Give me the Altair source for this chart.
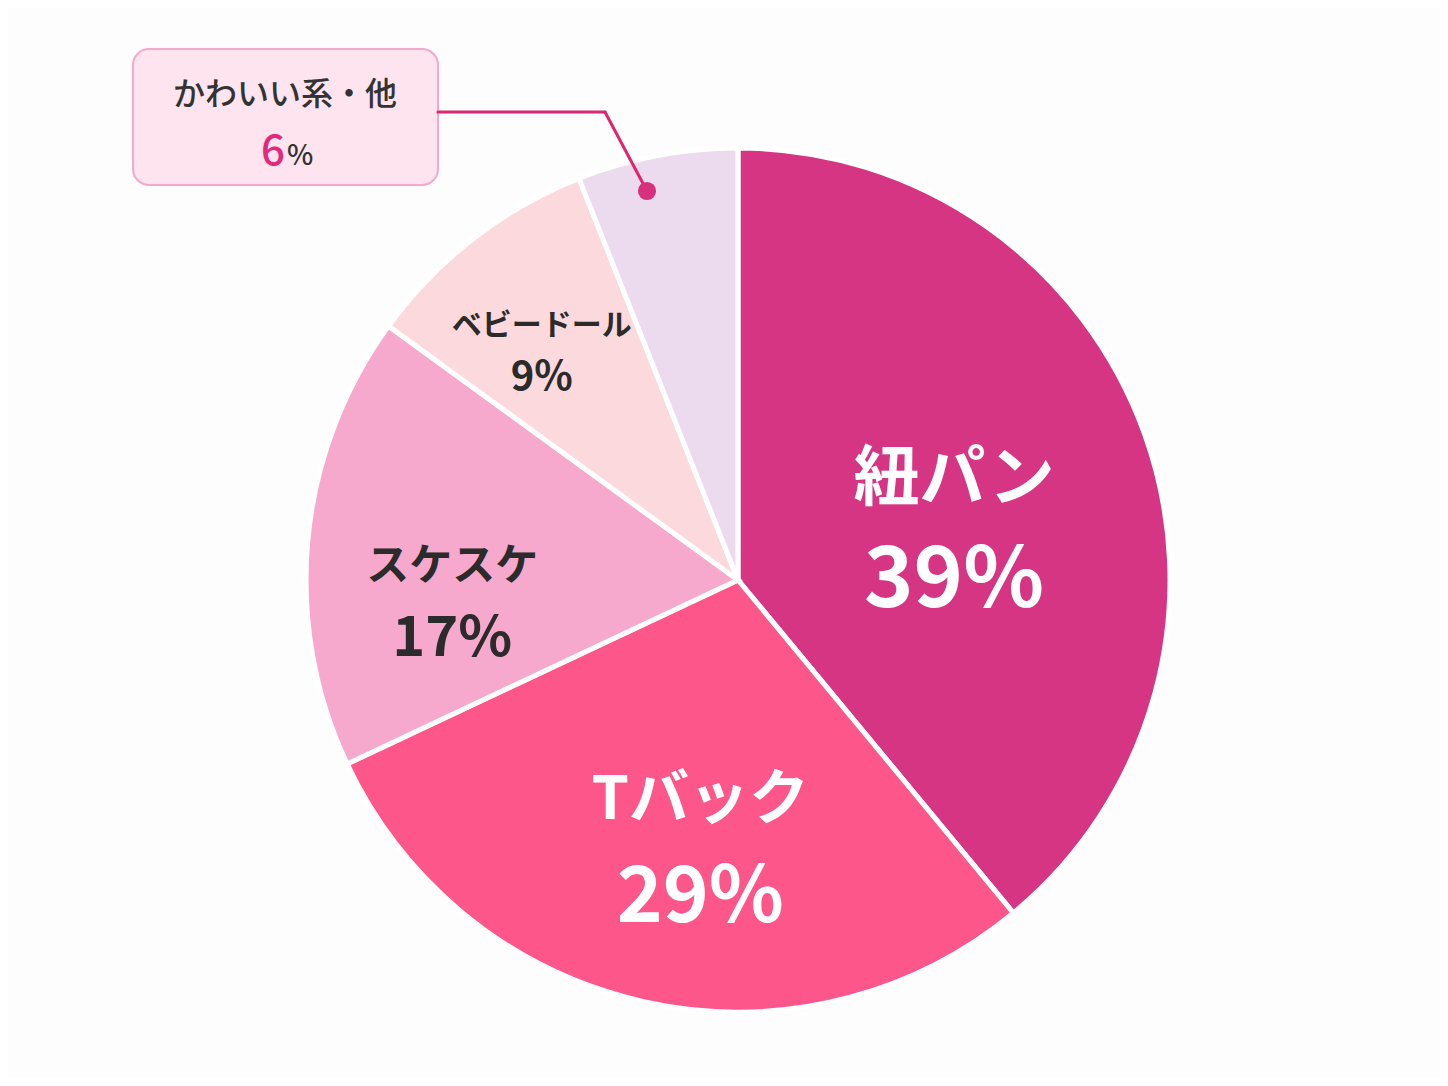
import math
import altair as alt
import pandas as pd

# ---- data ----
cats = ["紐パン", "Tバック", "スケスケ", "ベビードール", "かわいい系・他"]
values = [39, 29, 17, 9, 6]
colors = ["#D63583", "#FC568A", "#F6A9CD", "#FCD9DD", "#ECDAEE"]

df = pd.DataFrame({"cat": cats, "value": values, "idx": list(range(len(cats)))})

FONT = "Noto Sans CJK JP"
CX, CY, R = 730, 572, 432
theta_scale = alt.Scale(domain=[0, 100], range=[0, 2 * math.pi])

pie = alt.Chart(df).mark_arc(
    x=CX, y=CY, outerRadius=R, stroke="white", strokeWidth=5
).encode(
    theta=alt.Theta("value:Q", stack=True, scale=theta_scale),
    color=alt.Color("cat:N", scale=alt.Scale(domain=cats, range=colors), legend=None),
    order=alt.Order("idx:Q", sort="ascending"),
)

base = alt.Chart(df).transform_window(
    cum="sum(value)", sort=[alt.SortField("idx")], frame=[None, 0]
).transform_calculate(
    mid="datum.cum - datum.value / 2",
    pct="datum.value + '%'",
    num="'' + datum.value",
)

# label styling per slice: (category, radius, dx, name_dy, pct_dy, name_size, pct_size, colour)
label_specs = [
    ("紐パン", 219, 10, -26, 76, 66, 84, "white"),
    ("Tバック", 274, 22, -46, 52, 60, 78, "white"),
    ("スケスケ", 282, -5, 14, 86, 43, 56, "#2b2b2b"),
    ("ベビードール", 299, -13, -18, 34, 30, 40, "#2b2b2b"),
]

layers = [pie]
for c, r, dx, ndy, pdy, ns, ps, col in label_specs:
    sub = base.transform_filter(alt.datum.cat == c)
    layers.append(
        sub.mark_text(
            x=CX, y=CY, radius=r, dx=dx, dy=ndy, fontSize=ns, font=FONT,
            fontWeight="bold", color=col, align="center", baseline="middle",
        ).encode(theta=alt.Theta("mid:Q", stack=False, scale=theta_scale), text="cat:N")
    )
    layers.append(
        sub.mark_text(
            x=CX, y=CY, radius=r, dx=dx, dy=pdy, fontSize=ps, font=FONT,
            fontWeight="bold", color=col, align="center", baseline="middle",
        ).encode(theta=alt.Theta("mid:Q", stack=False, scale=theta_scale), text="pct:N")
    )

# callout for the smallest slice
small = base.transform_filter(alt.datum.cat == "かわいい系・他")
box = small.mark_rect(
    fill="#FDE4EF", stroke="#F6A8CB", strokeWidth=2, cornerRadius=16
).encode(x=alt.value(125), x2=alt.value(430), y=alt.value(41), y2=alt.value(177))
lead1 = small.mark_rule(color="#E0246F", strokeWidth=3, strokeCap="round").encode(
    x=alt.value(430), x2=alt.value(597), y=alt.value(104), y2=alt.value(104)
)
lead2 = small.mark_rule(color="#E0246F", strokeWidth=3, strokeCap="round").encode(
    x=alt.value(597), x2=alt.value(639), y=alt.value(104), y2=alt.value(183)
)
dot = small.mark_circle(size=330, color="#D6307E", opacity=1).encode(
    x=alt.value(639), y=alt.value(183)
)
ctitle = small.mark_text(
    fontSize=32, font=FONT, fontWeight=500, color="#333333", align="center", baseline="middle"
).encode(x=alt.value(277), y=alt.value(87), text="cat:N")
cnum = small.mark_text(
    fontSize=42, font=FONT, fontWeight=500, color="#E2297C", align="right", baseline="alphabetic"
).encode(x=alt.value(277), y=alt.value(157), text="num:N")
cpct = small.mark_text(
    fontSize=28, font=FONT, fontWeight=500, color="#333333", align="left", baseline="alphabetic"
).encode(x=alt.value(279), y=alt.value(157), text=alt.value("%"))

layers += [box, lead1, lead2, dot, ctitle, cnum, cpct]

chart = alt.layer(*layers).properties(
    width=1432, height=1070,
    autosize=alt.AutoSizeParams(type="none"),
    padding=0,
    background="#FEFDFE",
).configure_view(strokeWidth=0)

chart.save("out.html", embed_options={"renderer": "svg", "actions": False})
